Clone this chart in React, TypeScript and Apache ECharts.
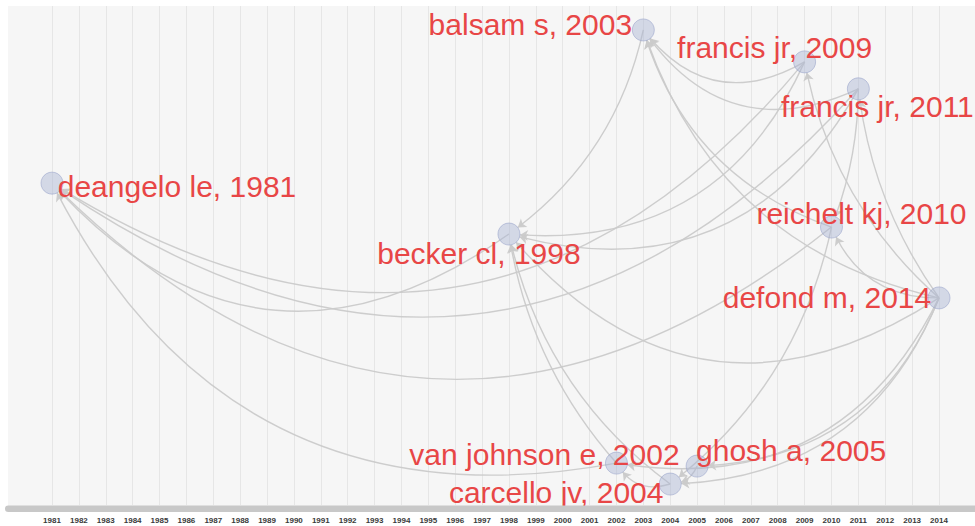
import React, { useEffect, useRef } from "react";
import * as echarts from "echarts";

// ---- data ----
const YEARS = [
  1981, 1982, 1983, 1984, 1985, 1986, 1987, 1988, 1989, 1990, 1991, 1992,
  1993, 1994, 1995, 1996, 1997, 1998, 1999, 2000, 2001, 2002, 2003, 2004,
  2005, 2006, 2007, 2008, 2009, 2010, 2011, 2012, 2013, 2014,
];

const PAPERS = [
  "deangelo le, 1981",
  "becker cl, 1998",
  "balsam s, 2003",
  "francis jr, 2009",
  "francis jr, 2011",
  "reichelt kj, 2010",
  "defond m, 2014",
  "van johnson e, 2002",
  "carcello jv, 2004",
  "ghosh a, 2005",
];
const PUB_YEAR = [1981, 1998, 2003, 2009, 2011, 2010, 2014, 2002, 2004, 2005];
// vertical layout position of each paper (0 = bottom, 100 = top)
const LAYOUT_Y = [64.5, 54.3, 95.2, 88.8, 83.4, 55.7, 41.5, 8.4, 4.2, 7.8];

// citations: CITING[i] cites CITED[i]
const CITING = [
  "becker cl, 1998",
  "van johnson e, 2002",
  "reichelt kj, 2010",
  "francis jr, 2009",
  "francis jr, 2011",
  "balsam s, 2003",
  "francis jr, 2009",
  "francis jr, 2011",
  "defond m, 2014",
  "van johnson e, 2002",
  "carcello jv, 2004",
  "francis jr, 2009",
  "francis jr, 2011",
  "reichelt kj, 2010",
  "defond m, 2014",
  "defond m, 2014",
  "defond m, 2014",
  "francis jr, 2011",
  "defond m, 2014",
  "reichelt kj, 2010",
  "defond m, 2014",
  "defond m, 2014",
  "defond m, 2014",
  "ghosh a, 2005",
  "carcello jv, 2004",
];
const CITED = [
  "deangelo le, 1981",
  "deangelo le, 1981",
  "deangelo le, 1981",
  "deangelo le, 1981",
  "deangelo le, 1981",
  "becker cl, 1998",
  "becker cl, 1998",
  "becker cl, 1998",
  "becker cl, 1998",
  "becker cl, 1998",
  "becker cl, 1998",
  "balsam s, 2003",
  "balsam s, 2003",
  "balsam s, 2003",
  "balsam s, 2003",
  "francis jr, 2009",
  "francis jr, 2011",
  "reichelt kj, 2010",
  "reichelt kj, 2010",
  "carcello jv, 2004",
  "ghosh a, 2005",
  "carcello jv, 2004",
  "van johnson e, 2002",
  "carcello jv, 2004",
  "van johnson e, 2002",
];

// ---- styling / label placement ----
const LABEL_OFFSET: Record<string, [number, number]> = {
  "deangelo le, 1981": [125, 3],
  "becker cl, 1998": [-30, 19],
  "balsam s, 2003": [-113, -5],
  "francis jr, 2009": [-30, -14],
  "francis jr, 2011": [19, 18],
  "reichelt kj, 2010": [30, -14],
  "defond m, 2014": [-112, 0],
  "van johnson e, 2002": [-72, -9],
  "carcello jv, 2004": [-114, 8],
  "ghosh a, 2005": [94, -16],
};
const ASPECT = 2.35; // arc bending is computed in data space with this aspect
const BEND = 0.19;

function buildOption(links: any[]) {
  return {
    animation: false,
    backgroundColor: "#ffffff",
    grid: { left: 52, right: 36, top: 6, bottom: 21, containLabel: false },
    graphic: [
      {
        type: "rect",
        z: -10,
        silent: true,
        shape: { x: 8, y: 6, width: 967, height: 502 },
        style: { fill: "#f6f6f6" },
      },
      {
        type: "rect",
        z: 100,
        silent: true,
        shape: { x: 5, y: 505.5, width: 975, height: 6.5, r: 3.25 },
        style: { fill: "#c8c8c8" },
      },
    ],
    xAxis: {
      type: "value",
      min: YEARS[0],
      max: YEARS[YEARS.length - 1],
      interval: 1,
      axisLine: { show: false },
      axisTick: { show: false },
      splitLine: { show: true, lineStyle: { color: "#e6e6e6", width: 1 } },
      axisLabel: {
        margin: 11,
        fontSize: 8,
        fontWeight: "bold",
        color: "#3a3a3a",
        fontFamily: "Liberation Sans, Arial, sans-serif",
        formatter: (v: number) => String(v),
      },
    },
    yAxis: {
      type: "value",
      min: 0,
      max: 100,
      show: false,
      splitLine: { show: false },
    },
    series: [
      {
        id: "hist",
        type: "graph",
        coordinateSystem: "cartesian2d",
        layout: "none",
        silent: true,
        symbol: "circle",
        symbolSize: 22,
        edgeSymbol: ["none", "arrow"],
        edgeSymbolSize: [0, 8],
        itemStyle: {
          color: "rgba(168,179,210,0.45)",
          borderColor: "rgba(150,160,200,0.55)",
          borderWidth: 1,
        },
        lineStyle: { color: "#cacaca", width: 1.4, opacity: 0.95 },
        label: {
          show: true,
          position: "inside",
          fontSize: 30,
          color: "#e84646",
          fontFamily: "Liberation Sans, Arial, sans-serif",
        },
        emphasis: { disabled: true },
        data: PAPERS.map((name, i) => ({
          name,
          value: [PUB_YEAR[i], LAYOUT_Y[i]],
          label: { offset: LABEL_OFFSET[name] },
        })),
        links,
      },
    ],
  };
}

export default function App() {
  const ref = useRef<HTMLDivElement>(null);
  useEffect(() => {
    if (!ref.current) return;
    const chart = echarts.init(ref.current, null, { renderer: "svg" });
    const plain = CITING.map((s, i) => ({ source: s, target: CITED[i] }));
    chart.setOption(buildOption(plain));
    const pix: Record<string, number[]> = {};
    PAPERS.forEach((name, i) => {
      pix[name] = chart.convertToPixel({ gridIndex: 0 }, [
        PUB_YEAR[i],
        LAYOUT_Y[i],
      ]) as number[];
    });
    const links = CITING.map((s, i) => {
      const a = pix[s];
      const b = pix[CITED[i]];
      const dx = b[0] - a[0];
      const dy = b[1] - a[1];
      const c =
        (BEND * ((dy * dy) / ASPECT + ASPECT * dx * dx)) / (dx * dx + dy * dy);
      return { source: s, target: CITED[i], lineStyle: { curveness: c } };
    });
    chart.setOption(buildOption(links));
    return () => chart.dispose();
  }, []);
  return (
    <div
      ref={ref}
      style={{ position: "absolute", left: 0, top: 0, width: 975, height: 526 }}
    />
  );
}
